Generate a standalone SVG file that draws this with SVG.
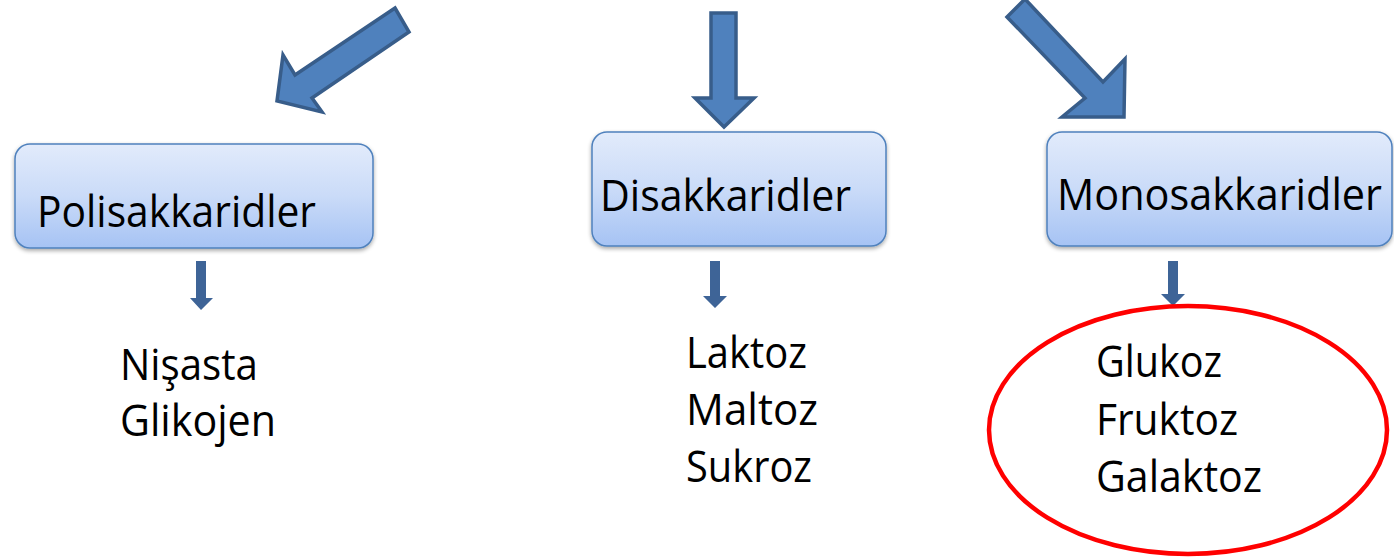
<svg xmlns="http://www.w3.org/2000/svg" width="1394" height="557" viewBox="0 0 1394 557">
  <defs>
    <linearGradient id="boxFill" x1="0" y1="0" x2="0" y2="1">
      <stop offset="0" stop-color="#E2EBFB"/>
      <stop offset="0.5" stop-color="#CADBF8"/>
      <stop offset="1" stop-color="#A6C3F4"/>
    </linearGradient>
    <filter id="shadow" x="-5%" y="-5%" width="110%" height="120%">
      <feGaussianBlur in="SourceAlpha" stdDeviation="2"/>
      <feOffset dx="0" dy="2" result="b"/>
      <feComponentTransfer><feFuncA type="linear" slope="0.35"/></feComponentTransfer>
      <feMerge><feMergeNode/><feMergeNode in="SourceGraphic"/></feMerge>
    </filter>
  </defs>
  <style>
    .box { fill: url(#boxFill); stroke: #4F81BD; stroke-width: 1.5; filter: url(#shadow); }
    .big { fill: #4F81BD; stroke: #385D8A; stroke-width: 3.5; stroke-linejoin: miter; }
    .small { fill: #3E6497; }
    .lbl { font-family: "Open Sans", "Liberation Sans", sans-serif; font-size: 44px; fill: #000; }
    .ring { fill: none; stroke: #FF0000; stroke-width: 4.5; }
  </style>

  <!-- connectors: large block arrows and small down arrows -->
  <g id="connectors">
    <polygon class="big" points="395,8 409,32 312,98 322,112 277,101 283,55 295,75"/>
    <polygon class="big" points="711,13 736,13 736,98 754,98 724,127 695,98 711,98"/>
    <polygon class="big" points="1007,17 1025,-1 1103,82 1125,59 1124,117 1062,117 1085,98"/>
    <polygon class="small" points="196,261 206,261 206,298 213,298 201,310 190,298 196,298"/>
    <polygon class="small" points="710,261 720,261 720,296 727,296 715,308 703,296 710,296"/>
    <polygon class="small" points="1168,261 1178,261 1178,294 1185,294 1173,306 1161,294 1168,294"/>
  </g>

  <g id="node-polisakkaridler">
    <rect class="box" x="15" y="144" width="358" height="104" rx="15"/>
    <text class="lbl" x="37" y="227" textLength="279" lengthAdjust="spacingAndGlyphs">Polisakkaridler</text>
  </g>

  <g id="node-disakkaridler">
    <rect class="box" x="592" y="132" width="294" height="114" rx="15"/>
    <text class="lbl" x="600" y="211" textLength="251" lengthAdjust="spacingAndGlyphs">Disakkaridler</text>
  </g>

  <g id="node-monosakkaridler">
    <rect class="box" x="1047" y="132" width="345" height="114" rx="15"/>
    <text class="lbl" x="1057" y="210" font-size="41.5" textLength="325" lengthAdjust="spacingAndGlyphs">Monosakkaridler</text>
  </g>

  <g id="node-poli-examples">
    <text class="lbl" x="120" y="380" textLength="138" lengthAdjust="spacingAndGlyphs">Nişasta</text>
    <text class="lbl" x="120" y="436" textLength="156" lengthAdjust="spacingAndGlyphs">Glikojen</text>
  </g>

  <g id="node-di-examples">
    <text class="lbl" x="686" y="368" textLength="121" lengthAdjust="spacingAndGlyphs">Laktoz</text>
    <text class="lbl" x="686" y="425" textLength="132" lengthAdjust="spacingAndGlyphs">Maltoz</text>
    <text class="lbl" x="686" y="482" textLength="126" lengthAdjust="spacingAndGlyphs">Sukroz</text>
  </g>

  <g id="node-mono-examples">
    <ellipse class="ring" cx="1188" cy="430" rx="199" ry="124"/>
    <text class="lbl" x="1096" y="377" textLength="126" lengthAdjust="spacingAndGlyphs">Glukoz</text>
    <text class="lbl" x="1096" y="435" textLength="142" lengthAdjust="spacingAndGlyphs">Fruktoz</text>
    <text class="lbl" x="1096" y="492" textLength="166" lengthAdjust="spacingAndGlyphs">Galaktoz</text>
  </g>
</svg>
